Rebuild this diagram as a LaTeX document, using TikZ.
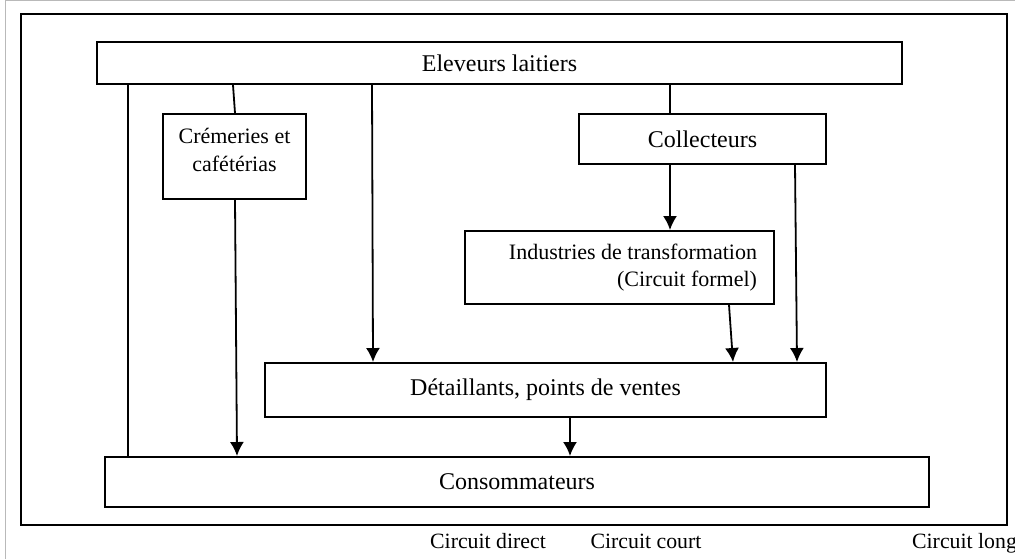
\documentclass[tikz,border=0pt]{standalone}
\usepackage{fontspec}
\setmainfont{Liberation Serif}
\usepackage{tikz}
\usetikzlibrary{arrows.meta,positioning}

\begin{document}
\begin{tikzpicture}[x=0.5pt,y=-0.5pt,>={Latex[length=7pt,width=7pt]},
    box/.style={draw, shape=rectangle, line width=1pt, align=center, inner sep=0pt, font=\fontsize{12}{14}\selectfont},
    flow/.style={line width=0.9pt},
    circuit/.style={anchor=base, inner sep=0pt, font=\fontsize{10.9}{13}\selectfont}]
\useasboundingbox (0,0) rectangle (1015,559);
% page edge and frame
\draw[gray!55, line width=0.7pt] (5.5,559) -- (5.5,0.5) -- (1015,0.5);
\draw[line width=1pt] (21,14) rectangle (1007,525);

\node[box, minimum width=402.5pt, minimum height=21pt] (elev) at (499.5,63) {Eleveurs laitiers};
\node[box, font=\fontsize{11}{14}\selectfont, minimum width=71.5pt, minimum height=42.5pt] (crem) at (234.5,156.5) {Crémeries et\\cafétérias\\[-7pt]};
\node[box, minimum width=123.5pt, minimum height=25pt] (coll) at (702.5,139) {Collecteurs};
\node[box, font=\fontsize{11}{13.5}\selectfont, align=flush right, text width=137.5pt, inner xsep=8.5pt, minimum height=36.5pt] (indus) at (619.5,267.5) {Industries de transformation\\(Circuit formel)};
\node[box, minimum width=280.5pt, minimum height=27pt] (detail) at (545.5,390) {Détaillants, points de ventes};
\node[box, minimum width=412pt, minimum height=25pt] (conso) at (517,482) {Consommateurs};

\node[circuit] (direct) at (488,548) {Circuit direct};
\node[circuit] (court) at (646,548) {Circuit court};
\node[circuit] (long) at (964.5,548) {Circuit long};

\draw[flow] (elev.south -| 128,0) -- (conso.north -| 128,0);
\draw[flow] (elev.south -| 233,0) -- (crem.north -| 235,0);
\draw[flow, ->] (crem.south -| 235,0) -- (conso.north -| 237,0);
\draw[flow, ->] (elev.south -| 372,0) -- (detail.north -| 373,0);
\draw[flow] (elev.south -| 670,0) -- (coll.north -| 670,0);
\draw[flow, ->] (coll.south -| 670,0) -- (indus.north -| 670,0);
\draw[flow, ->] (coll.south -| 795,0) -- (detail.north -| 797,0);
\draw[flow, ->] (indus.south -| 729,0) -- (detail.north -| 733,0);
\draw[flow, ->] (detail.south -| 570,0) -- (conso.north -| 570,0);
\end{tikzpicture}
\end{document}
